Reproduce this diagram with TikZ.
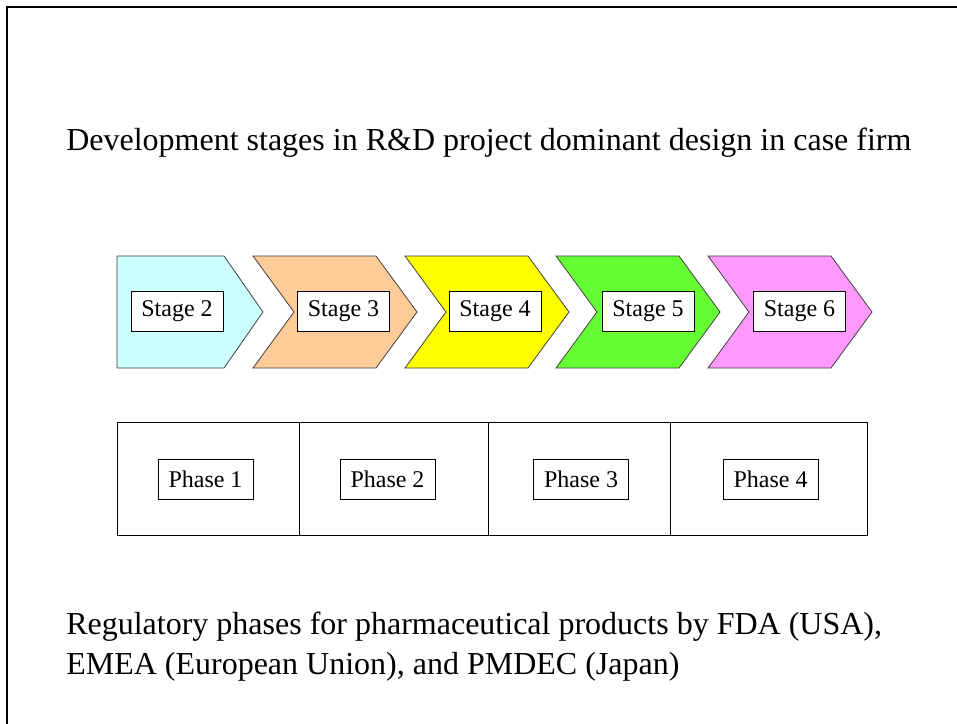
\documentclass[tikz,border=0pt]{standalone}
\usepackage{fontspec}
\setmainfont{Liberation Serif}
\usetikzlibrary{positioning}

\begin{document}
\begin{tikzpicture}[
        x=0.75pt, y=-0.75pt,
        chevron/.style={draw=black!75, line width=0.6pt},
        stagebox/.style={rectangle, draw, fill=white, inner sep=0pt, minimum width=69pt, minimum height=30pt, font=\fontsize{18}{22}\selectfont},
        phasebox/.style={rectangle, draw, fill=white, inner sep=0pt, minimum width=71pt, minimum height=30pt, font=\fontsize{18}{22}\selectfont},
        bigtext/.style={inner sep=0pt, align=left, font=\fontsize{24}{30}\selectfont}
      ]

      \useasboundingbox (0,0) rectangle (957,724);

      % frame (top and left only)
      \draw[line width=1.5pt] (6.5,724) -- (6.5,7.5) -- (957,7.5);

      \node[bigtext, anchor=base west] (title) at (66,150) {Development stages in R\&D project dominant design in case firm};

      % stage chevrons
      \fill[chevron, fill={rgb,255:red,204;green,255;blue,255}] (117,256) -- (224,256) -- (263,312) -- (224,368) -- (117,368) -- cycle;
      \fill[chevron, fill={rgb,255:red,255;green,204;blue,153}] (253,256) -- (376,256) -- (417,312) -- (376,368) -- (253,368) -- (294,312) -- cycle;
      \fill[chevron, fill={rgb,255:red,255;green,255;blue,0}] (405,256) -- (528,256) -- (569,312) -- (528,368) -- (405,368) -- (446,312) -- cycle;
      \fill[chevron, fill={rgb,255:red,102;green,255;blue,51}] (556,256) -- (679,256) -- (720,312) -- (679,368) -- (556,368) -- (597,312) -- cycle;
      \fill[chevron, fill={rgb,255:red,255;green,153;blue,255}] (708,256) -- (831,256) -- (872,312) -- (831,368) -- (708,368) -- (749,312) -- cycle;

      \node[stagebox] (stage2) at (177,311) {Stage 2};
      \node[stagebox] (stage3) at (343.5,311) {Stage 3};
      \node[stagebox] (stage4) at (495,311) {Stage 4};
      \node[stagebox] (stage5) at (648,311) {Stage 5};
      \node[stagebox] (stage6) at (799.5,311) {Stage 6};

      % regulatory phases
      \draw[line width=0.6pt] (117,422) rectangle (867,535);
      \draw[line width=0.6pt] (299,422) -- (299,535);
      \draw[line width=0.6pt] (488,422) -- (488,535);
      \draw[line width=0.6pt] (670,422) -- (670,535);

      \node[phasebox] (phase1) at (205.5,479) {Phase 1};
      \node[phasebox] (phase2) at (387.5,479) {Phase 2};
      \node[phasebox] (phase3) at (581,479) {Phase 3};
      \node[phasebox] (phase4) at (770.5,479) {Phase 4};

      \node[bigtext, anchor=north west] (caption) at (66,612) {Regulatory phases for pharmaceutical products by FDA (USA),\\EMEA (European Union), and PMDEC (Japan)};

    \end{tikzpicture}
\end{document}
